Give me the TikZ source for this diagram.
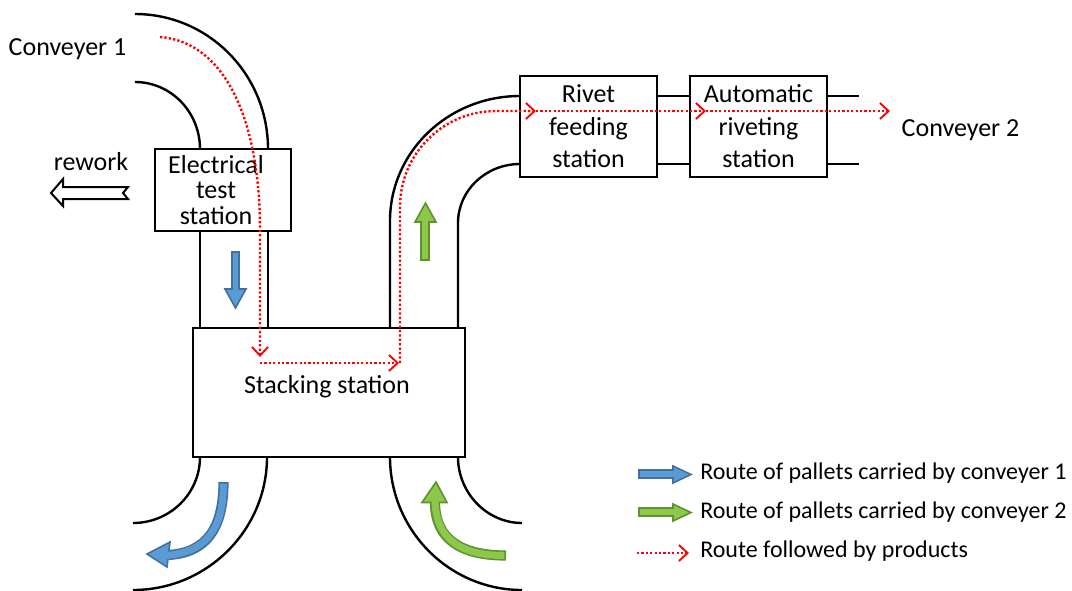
\documentclass[tikz,border=0pt]{standalone}
\usepackage{fontspec}
\setmainfont{Carlito}
\usetikzlibrary{arrows.meta}
\definecolor{palletblue}{RGB}{91,155,213}
\definecolor{palletblueedge}{RGB}{65,113,156}
\definecolor{palletgreen}{RGB}{141,200,75}
\definecolor{palletgreenedge}{RGB}{94,145,50}
\begin{document}
\begin{tikzpicture}[x=0.75pt,y=-0.75pt,
  rail/.style={line width=1.8pt},
  station/.style={draw, line width=1.8pt, fill=white, inner sep=0pt, outer sep=0pt},
  lbl/.style={font=\fontsize{19.5}{23}\selectfont, inner sep=0pt, align=center},
  legendtext/.style={font=\fontsize{18}{22}\selectfont, anchor=west, inner sep=0pt},
  route/.style={red, line width=1.8pt, dash pattern=on 1.7pt off 1.6pt,
    -{Straight Barb[length=6.5pt,width=12pt,line width=1.4pt]}},
  bluearrow/.style={fill=palletblue, draw=palletblueedge, line width=1.2pt, line join=miter},
  greenarrow/.style={fill=palletgreen, draw=palletgreenedge, line width=1.2pt, line join=miter},
  reworkarrow/.style={fill=white, draw=black, line width=1.5pt, line join=miter}]
\useasboundingbox (0,0) rectangle (1072,590);

% --- conveyer 1 inlet bend
\draw[rail] (135,14) .. controls (208.5,14) and (268,74.4) .. (268,149);
\draw[rail] (135,82) .. controls (170.9,82) and (200,112) .. (200,149);
% --- straight run between test station and stacking station
\draw[rail] (200,231) -- (200,328);
\draw[rail] (268,231) -- (268,328);
% --- conveyer 1 outlet bend
\draw[rail] (200,457) .. controls (200,493.5) and (170,523) .. (133,523);
\draw[rail] (267,457) .. controls (267,530) and (207,590) .. (133,590);
% --- conveyer 2 inlet bend
\draw[rail] (390,457) .. controls (390,530) and (449,590) .. (522,590);
\draw[rail] (458,457) .. controls (458,493) and (487,523) .. (522,523);
% --- elbow up to the rivet feeding station
\draw[rail] (390,328) -- (390,221) .. controls (390,152) and (448,96) .. (520,96);
\draw[rail] (458,328) -- (458,223) .. controls (458,190.4) and (485.8,164) .. (520,164);
% --- links between riveting stations and exit
\draw[rail] (657,96) -- (690,96);
\draw[rail] (657,164) -- (690,164);
\draw[rail] (827,96) -- (859,96);
\draw[rail] (827,164) -- (859,164);

% --- stations
\node[station, minimum width=102pt, minimum height=61.5pt] (etest) at (223,190) {};
\node[lbl, font=\fontsize{19.5}{19}\selectfont] (etestlbl) at (216,190) {Electrical\\test\\station};
\node[station, minimum width=204pt, minimum height=96.75pt] (stack) at (329,392.5) {};
\node[lbl] (stacklbl) at (327,387) {Stacking station};
\node[station, minimum width=102.75pt, minimum height=75.75pt, lbl,
  font=\fontsize{19.5}{24.4}\selectfont] (rivet) at (588.5,126.5) {Rivet\\feeding\\station};
\node[station, minimum width=102.75pt, minimum height=75.75pt, lbl,
  font=\fontsize{19.5}{24.4}\selectfont] (auto) at (758.5,126.5) {Automatic\\riveting\\station};

% --- free labels
\node[lbl] (conv1) at (67.5,49) {Conveyer 1};
\node[lbl] (conv2) at (960.5,130) {Conveyer 2};
\node[lbl] (rework) at (91,162) {rework};

% --- rework exit arrow
\draw[reworkarrow] (51,193) -- (63,179) -- (63,187) -- (128,187) -- (123,193)
  -- (128,199) -- (63,199) -- (63,206) -- cycle;

% --- pallet flow arrows
\draw[bluearrow] (232,252) -- (239,252) -- (239,289) -- (246,289) -- (235.5,308)
  -- (225,289) -- (232,289) -- cycle;
\draw[greenarrow] (421,260) -- (429,260) -- (429,222) -- (436,222) -- (425.5,203)
  -- (415,222) -- (421,222) -- cycle;

% curved outlet arrow (conveyer 1)
\draw[palletblueedge, line width=7.65pt] (223.5,482) .. controls (223.5,530) and (205,553) .. (168,555);
\draw[bluearrow] (147,554) -- (170,542) -- (167,567) -- cycle;
\draw[palletblue, line width=5.25pt, shorten <=1.2pt] (223.5,482) .. controls (223.5,530) and (205,553) .. (165,555.5);

% curved inlet arrow (conveyer 2)
\draw[palletgreenedge, line width=7.65pt] (506,555.5) .. controls (462,555.5) and (435,540) .. (435,502);
\draw[greenarrow] (436,482) -- (447,502.5) -- (422,502.5) -- cycle;
\draw[palletgreen, line width=5.25pt, shorten <=1.2pt] (506,555.5) .. controls (462,555.5) and (435,540) .. (435,499);

% --- product route
\coordinate (r0) at (160,37);
\coordinate (r1) at (260,357);
\coordinate (r2) at (260,363);
\coordinate (r3) at (399,363);
\coordinate (r4) at (400,363);
\coordinate (r5) at (536,111);
\coordinate (r6) at (706,111);
\coordinate (r7) at (890,111);
\draw[route] (r0) .. controls (225,42) and (260,120) .. (260,230) -- (r1);
\draw[route] (r2) -- (r3);
\draw[route, rounded corners=72pt] (r4) -- (400,111) -- (r5);
\draw[route] (r5) -- (r6);
\draw[route] (r6) -- (r7);

% --- legend
\draw[bluearrow] (639,470) -- (673,470) -- (673,466) -- (691,474.5) -- (673,483)
  -- (673,478) -- (639,478) -- cycle;
\node[legendtext] (leg1) at (700,473) {Route of pallets carried by conveyer 1};
\draw[greenarrow] (639,508) -- (673,508) -- (673,504) -- (691,512.5) -- (673,521)
  -- (673,516) -- (639,516) -- cycle;
\node[legendtext] (leg2) at (700,512) {Route of pallets carried by conveyer 2};
\coordinate (lg0) at (637,553);
\coordinate (lg1) at (689,553);
\draw[route] (lg0) -- (lg1);
\node[legendtext] (leg3) at (700,551) {Route followed by products};
\end{tikzpicture}
\end{document}
